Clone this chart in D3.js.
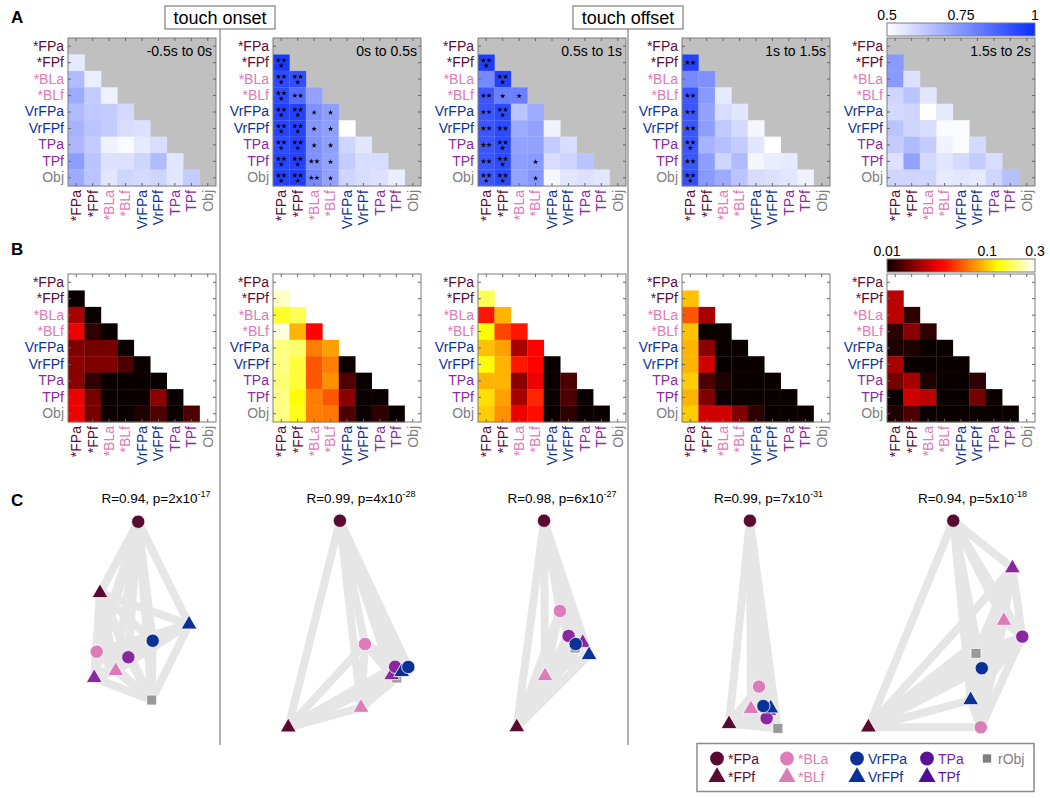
<!DOCTYPE html>
<html>
<head>
<meta charset="utf-8">
<script src="https://cdn.jsdelivr.net/npm/d3@7"></script>
<style>
  body { margin: 0; background: #fff; }
  svg { font-family: "Liberation Sans", Arial, sans-serif; }
</style>
</head>
<body>
<svg id="fig" width="1050" height="798"></svg>
<script>
// ---- data ----
var regions = ['*FPa', '*FPf', '*BLa', '*BLf', 'VrFPa', 'VrFPf', 'TPa', 'TPf', 'Obj'];
var regionColor = ['#5e0b33', '#5e0b33', '#e07ab8', '#e07ab8', '#0d3296', '#0d3296', '#8a2a9c', '#8a2a9c', '#808080'];
var markerColor = ['#5a0a30', '#5a0a30', '#dc7cb8', '#dc7cb8', '#0a3296', '#0a3296', '#8a26a0', '#8a26a0', '#999999'];
var windows = ['-0.5s to 0s', '0s to 0.5s', '0.5s to 1s', '1s to 1.5s', '1.5s to 2s'];

// A: decoding accuracy, lower triangle (row i = regions[i+1], columns 0..i)
var accA = [
  [[0.55], [0.66, 0.54], [0.70, 0.62, 0.53], [0.66, 0.63, 0.62, 0.59], [0.68, 0.64, 0.62, 0.58, 0.57],
   [0.67, 0.62, 0.53, 0.51, 0.55, 0.58], [0.73, 0.64, 0.57, 0.57, 0.60, 0.66, 0.56],
   [0.70, 0.64, 0.56, 0.60, 0.59, 0.60, 0.56, 0.62]],
  [[0.97], [0.93, 0.92], [0.93, 0.85, 0.72], [0.95, 0.95, 0.76, 0.73], [0.94, 0.95, 0.75, 0.73, 0.50],
   [0.93, 0.95, 0.76, 0.73, 0.60, 0.56], [0.94, 0.95, 0.76, 0.72, 0.62, 0.58, 0.58],
   [0.95, 0.96, 0.78, 0.72, 0.60, 0.58, 0.57, 0.54]],
  [[0.96], [0.78, 0.95], [0.90, 0.80, 0.80], [0.90, 0.93, 0.64, 0.70], [0.90, 0.93, 0.70, 0.72, 0.53],
   [0.90, 0.93, 0.72, 0.72, 0.62, 0.58], [0.90, 0.93, 0.73, 0.74, 0.58, 0.60, 0.64],
   [0.90, 0.93, 0.72, 0.75, 0.52, 0.56, 0.57, 0.56]],
  [[0.95], [0.78, 0.76], [0.90, 0.74, 0.55], [0.90, 0.72, 0.58, 0.56], [0.90, 0.73, 0.63, 0.59, 0.52],
   [0.90, 0.68, 0.65, 0.62, 0.56, 0.50], [0.90, 0.73, 0.60, 0.66, 0.52, 0.54, 0.55],
   [0.92, 0.74, 0.70, 0.64, 0.58, 0.57, 0.56, 0.53]],
  [[0.74], [0.74, 0.57], [0.60, 0.64, 0.56], [0.59, 0.60, 0.50, 0.55], [0.64, 0.60, 0.58, 0.51, 0.51],
   [0.62, 0.66, 0.62, 0.53, 0.51, 0.59], [0.57, 0.72, 0.59, 0.56, 0.59, 0.62, 0.58],
   [0.60, 0.60, 0.60, 0.55, 0.56, 0.55, 0.60, 0.65]]
];

// A: number of significance stars per cell
var starsA = [
  null,
  [[3], [3, 3], [3, 2, 0], [3, 3, 1, 1], [3, 3, 1, 1, 0], [3, 3, 1, 1, 0, 0], [3, 3, 2, 1, 0, 0, 0],
   [3, 3, 2, 1, 0, 0, 0, 0]],
  [[3], [0, 3], [2, 1, 1], [2, 3, 0, 0], [2, 2, 0, 0, 0], [2, 3, 0, 0, 0, 0], [2, 3, 0, 1, 0, 0, 0],
   [3, 3, 0, 1, 0, 0, 0, 0]],
  [[2], [0, 0], [2, 0, 0], [2, 0, 0, 0], [2, 0, 0, 0, 0], [3, 0, 0, 0, 0, 0], [2, 0, 0, 0, 0, 0, 0],
   [3, 0, 0, 0, 0, 0, 0, 0]],
  null
];

// B: values on log colour scale 0.01 .. 0.3
var valB = [
  [[0.010], [0.022, 0.010], [0.031, 0.012, 0.010], [0.018, 0.017, 0.017, 0.010],
   [0.019, 0.018, 0.018, 0.014, 0.010], [0.019, 0.012, 0.010, 0.010, 0.010, 0.010],
   [0.031, 0.017, 0.010, 0.010, 0.010, 0.019, 0.010], [0.031, 0.017, 0.010, 0.010, 0.011, 0.014, 0.010, 0.014]],
  [[0.245], [0.147, 0.170], [0.270, 0.088, 0.036], [0.197, 0.185, 0.067, 0.080],
   [0.200, 0.155, 0.055, 0.067, 0.010], [0.190, 0.155, 0.055, 0.074, 0.014, 0.010],
   [0.200, 0.128, 0.067, 0.055, 0.019, 0.010, 0.010], [0.200, 0.140, 0.067, 0.065, 0.014, 0.010, 0.012, 0.010]],
  [[0.170], [0.040, 0.088], [0.128, 0.050, 0.040], [0.094, 0.080, 0.022, 0.036],
   [0.128, 0.088, 0.040, 0.036, 0.010], [0.088, 0.088, 0.019, 0.031, 0.010, 0.014],
   [0.110, 0.080, 0.022, 0.043, 0.010, 0.014, 0.010], [0.100, 0.074, 0.031, 0.038, 0.010, 0.012, 0.010, 0.010]],
  [[0.094], [0.055, 0.022], [0.094, 0.010, 0.010], [0.088, 0.019, 0.010, 0.010],
   [0.088, 0.027, 0.010, 0.010, 0.010], [0.100, 0.014, 0.011, 0.010, 0.010, 0.010],
   [0.088, 0.018, 0.010, 0.010, 0.010, 0.010, 0.010], [0.100, 0.027, 0.027, 0.018, 0.012, 0.010, 0.010, 0.010]],
  [[0.024], [0.024, 0.012], [0.012, 0.019, 0.012], [0.011, 0.011, 0.010, 0.010],
   [0.022, 0.010, 0.010, 0.010, 0.010], [0.017, 0.022, 0.011, 0.010, 0.010, 0.012],
   [0.010, 0.027, 0.024, 0.010, 0.010, 0.017, 0.010], [0.011, 0.014, 0.010, 0.010, 0.010, 0.010, 0.010, 0.010]]
];

// C: 2-D embedding coordinates, one row per window, in region order
var mdsX = [
  [-0.086, -0.271, -0.287, -0.195, -0.016, 0.160, -0.134, -0.299, -0.021],
  [-0.102, -0.352, 0.019, 0.000, 0.229, 0.197, 0.165, 0.149, 0.173],
  [-0.087, -0.219, -0.010, -0.082, 0.066, 0.131, 0.032, 0.100, 0.063],
  [-0.090, -0.191, -0.046, -0.085, -0.025, 0.011, -0.009, 0.002, 0.045],
  [-0.093, -0.504, 0.040, 0.152, 0.045, -0.009, 0.241, 0.193, 0.017]
];
var mdsY = [
  [0.005, 0.350, 0.634, 0.727, 0.581, 0.502, 0.661, 0.761, 0.868],
  [0.000, 1.000, 0.597, 0.905, 0.708, 0.732, 0.707, 0.747, 0.761],
  [0.000, 0.999, 0.437, 0.752, 0.597, 0.650, 0.558, 0.591, 0.616],
  [0.000, 0.984, 0.803, 0.911, 0.897, 0.908, 0.956, 0.920, 1.005],
  [0.000, 1.000, 1.000, 0.484, 0.714, 0.868, 0.561, 0.230, 0.642]
];
var statR = [0.94, 0.99, 0.98, 0.99, 0.94];
var statPm = [2, 4, 6, 7, 5];
var statPe = [-17, -28, -27, -31, -18];

// ---- layout ----
var svg = d3.select('#fig');
var matLeft = [68, 273, 478, 682, 887];
var size = 148;
var topA = 38, topB = 274;
var graphCenter = [156, 361, 562, 768.5, 972.5];

var blueScale = d3.scaleLinear().domain([0.5, 1]).range(['#ffffff', '#0a2cff']).clamp(true);
var logB = d3.scaleLog().domain([0.01, 0.3]).range([0, 1]).clamp(true);

function hot(t) {
  var c = function (v) { return Math.max(0, Math.min(1, v)); };
  return d3.rgb(255 * c(0.0417 + t / 0.375), 255 * c((t - 0.375) / 0.375), 255 * c((t - 0.75) / 0.25)) + '';
}

function shapeOf(i) {
  if (i === 8) { return d3.symbolSquare; }
  return i % 2 === 0 ? d3.symbolCircle : d3.symbolTriangle;
}
function sizeOf(i) {
  if (i === 8) { return 100; }
  return i % 2 === 0 ? 140 : 110;
}

// draw one triangular matrix with its axes
function drawMatrix(left, top, vals, fill, bg, stars, cellStroke) {
  var x = d3.scaleBand().domain(regions).range([left, left + size]);
  var y = d3.scaleBand().domain(regions).range([top, top + size]);
  var g = svg.append('g');

  g.append('rect')
    .attr('x', left).attr('y', top)
    .attr('width', size).attr('height', size)
    .attr('fill', bg);

  var cells = [];
  vals.forEach(function (row, ri) {
    row.forEach(function (v, ci) {
      cells.push({r: regions[ri + 1], c: regions[ci], v: v, s: stars ? stars[ri][ci] : 0});
    });
  });

  g.selectAll('rect.cell').data(cells).join('rect')
    .attr('class', 'cell')
    .attr('x', function (d) { return x(d.c); })
    .attr('y', function (d) { return y(d.r); })
    .attr('width', x.bandwidth() + 0.3)
    .attr('height', y.bandwidth() + 0.3)
    .attr('fill', function (d) { return fill(d.v); })
    .attr('stroke', cellStroke)
    .attr('stroke-width', 0.5);

  // significance stars
  var offs = {
    1: [[0, 0.5]],
    2: [[-2.8, 0], [2.8, 0]],
    3: [[-2.8, -2.4], [2.8, -2.4], [0, 3]]
  };
  var star = d3.symbol(d3.symbolStar, 9);
  cells.filter(function (d) { return d.s > 0; }).forEach(function (d) {
    var cx = x(d.c) + x.bandwidth() / 2, cy = y(d.r) + y.bandwidth() / 2;
    offs[d.s].forEach(function (o) {
      g.append('path')
        .attr('d', star)
        .attr('transform', 'translate(' + (cx + o[0]) + ',' + (cy + o[1]) + ')')
        .attr('fill', '#000');
    });
  });

  // frame
  g.append('rect')
    .attr('x', left).attr('y', top)
    .attr('width', size).attr('height', size)
    .attr('fill', 'none')
    .attr('stroke', '#7d7d7d');

  function style(a) {
    a.select('.domain').remove();
    a.selectAll('line').attr('stroke', '#666');
    a.attr('font-family', null).attr('font-size', 14);
  }

  g.append('g').attr('transform', 'translate(' + left + ',0)')
    .call(d3.axisLeft(y).tickSizeInner(-3).tickSizeOuter(0).tickPadding(4))
    .call(style)
    .selectAll('text')
    .attr('fill', function (d) { return regionColor[regions.indexOf(d)]; });

  g.append('g').attr('transform', 'translate(' + (left + size) + ',0)')
    .call(d3.axisRight(y).tickSizeInner(-3).tickSizeOuter(0).tickFormat(''))
    .call(style);

  g.append('g').attr('transform', 'translate(0,' + top + ')')
    .call(d3.axisTop(x).tickSizeInner(-3).tickSizeOuter(0).tickFormat(''))
    .call(style);

  g.append('g').attr('transform', 'translate(0,' + (top + size) + ')')
    .call(d3.axisBottom(x).tickSizeInner(-3).tickSizeOuter(0))
    .call(style)
    .selectAll('text')
    .attr('transform', 'rotate(-90)')
    .attr('text-anchor', 'end')
    .attr('x', -4).attr('y', 0).attr('dy', '0.35em')
    .attr('fill', function (d) { return regionColor[regions.indexOf(d)]; });

  return g;
}

// panel A and B matrices
windows.forEach(function (w, k) {
  var gA = drawMatrix(matLeft[k], topA, accA[k], blueScale, '#c0c0c0', starsA[k], 'rgba(255,255,255,0.15)');
  gA.append('text')
    .attr('x', matLeft[k] + size - 4).attr('y', topA + 18)
    .attr('text-anchor', 'end')
    .attr('font-size', 14)
    .text(w);
  drawMatrix(matLeft[k], topB, valB[k], function (v) { return hot(logB(v)); }, '#ffffff', null, 'none');
});

// colour bars
var defs = svg.append('defs');
var gradA = defs.append('linearGradient').attr('id', 'gradA');
gradA.append('stop').attr('offset', '0%').attr('stop-color', blueScale(0.5));
gradA.append('stop').attr('offset', '100%').attr('stop-color', blueScale(1));
var gradB = defs.append('linearGradient').attr('id', 'gradB');
d3.range(0, 1.0001, 0.05).forEach(function (t) {
  gradB.append('stop').attr('offset', (t * 100) + '%').attr('stop-color', hot(t));
});

function colorBar(top, grad, scale, ticks) {
  var left = matLeft[4];
  svg.append('rect')
    .attr('x', left).attr('y', top)
    .attr('width', size).attr('height', 13)
    .attr('fill', 'url(#' + grad + ')')
    .attr('stroke', '#7d7d7d');
  svg.append('g').selectAll('text').data(ticks).join('text')
    .attr('x', function (d) { return left + scale(d) * size; })
    .attr('y', top - 3)
    .attr('text-anchor', 'middle')
    .attr('font-size', 14)
    .text(function (d) { return d; });
}
colorBar(23, 'gradA', d3.scaleLinear().domain([0.5, 1]).range([0, 1]), [0.5, 0.75, 1]);
colorBar(259, 'gradB', logB, [0.01, 0.1, 0.3]);

// panel labels
[['A', 23], ['B', 255], ['C', 506]].forEach(function (p) {
  svg.append('text').attr('x', 11).attr('y', p[1])
    .attr('font-size', 17).attr('font-weight', 'bold').text(p[0]);
});

// event separators
[['touch onset', 220], ['touch offset', 628]].forEach(function (e) {
  svg.append('line')
    .attr('x1', e[1]).attr('x2', e[1]).attr('y1', 29).attr('y2', 745)
    .attr('stroke', '#9a9a9a').attr('stroke-width', 1.5);
  svg.append('rect')
    .attr('x', e[1] - 55).attr('y', 6).attr('width', 110).attr('height', 23)
    .attr('fill', '#fff').attr('stroke', '#666');
  svg.append('text')
    .attr('x', e[1]).attr('y', 24)
    .attr('text-anchor', 'middle').attr('font-size', 18)
    .text(e[0]);
});

// panel C graphs
var pairs = [];
regions.forEach(function (a, i) {
  regions.forEach(function (b, j) { if (j > i) { pairs.push([i, j]); } });
});
var drawOrder = [8, 0, 1, 2, 3, 7, 6, 5, 4];

windows.forEach(function (w, k) {
  var xs = d3.scaleLinear().domain([-1, 1]).range([graphCenter[k] - 206.6, graphCenter[k] + 206.6]);
  var ys = d3.scaleLinear().domain([0, 1]).range([520.7, 727.3]);
  var g = svg.append('g');

  g.selectAll('line').data(pairs).join('line')
    .attr('x1', function (d) { return xs(mdsX[k][d[0]]); })
    .attr('y1', function (d) { return ys(mdsY[k][d[0]]); })
    .attr('x2', function (d) { return xs(mdsX[k][d[1]]); })
    .attr('y2', function (d) { return ys(mdsY[k][d[1]]); })
    .attr('stroke', '#e6e6e6')
    .attr('stroke-width', 8)
    .attr('stroke-linecap', 'round');

  g.selectAll('path').data(drawOrder).join('path')
    .attr('d', function (i) { return d3.symbol(shapeOf(i), sizeOf(i))(); })
    .attr('transform', function (i) {
      return 'translate(' + xs(mdsX[k][i]) + ',' + ys(mdsY[k][i]) + ')';
    })
    .attr('fill', function (i) { return markerColor[i]; })
    .attr('stroke', '#fff')
    .attr('stroke-width', 0.8);

  var t = g.append('text')
    .attr('x', graphCenter[k]).attr('y', 503)
    .attr('text-anchor', 'middle')
    .attr('font-size', 13.5);
  t.append('tspan').text('R=' + statR[k].toFixed(2) + ', p=' + statPm[k] + 'x10');
  t.append('tspan').attr('dy', -6).attr('font-size', 9).text(statPe[k]);
});

// legend
var legendItems = [
  {i: 0, col: 0, row: 0, label: '*FPa'}, {i: 1, col: 0, row: 1, label: '*FPf'},
  {i: 2, col: 1, row: 0, label: '*BLa'}, {i: 3, col: 1, row: 1, label: '*BLf'},
  {i: 4, col: 2, row: 0, label: 'VrFPa'}, {i: 5, col: 2, row: 1, label: 'VrFPf'},
  {i: 6, col: 3, row: 0, label: 'TPa'}, {i: 7, col: 3, row: 1, label: 'TPf'},
  {i: 8, col: 4, row: 0, label: 'rObj'}
];
var legColX = [717, 787, 857, 927, 987];
var legRowY = [758.5, 777];
var legendTextColor = ['#5e0b33', '#5e0b33', '#e07ab8', '#e07ab8', '#0d3296', '#0d3296', '#7a22a8', '#5a18a0', '#808080'];
var legendMarkColor = ['#5a0a30', '#5a0a30', '#dc7cb8', '#dc7cb8', '#0a3296', '#0a3296', '#5a1296', '#4e0e9a', '#808080'];

svg.append('rect')
  .attr('x', 697).attr('y', 743.5).attr('width', 337).attr('height', 48)
  .attr('fill', '#fff').attr('stroke', '#8a8a8a').attr('stroke-width', 1.5);

var leg = svg.append('g').selectAll('g').data(legendItems).join('g')
  .attr('transform', function (d) { return 'translate(' + legColX[d.col] + ',' + legRowY[d.row] + ')'; });
leg.append('path')
  .attr('d', function (d) { return d3.symbol(shapeOf(d.i), d.i === 8 ? 70 : (d.i % 2 === 0 ? 150 : 125))(); })
  .attr('fill', function (d) { return legendMarkColor[d.i]; });
leg.append('text')
  .attr('x', 11).attr('dy', '0.36em')
  .attr('font-size', 14)
  .attr('fill', function (d) { return legendTextColor[d.i]; })
  .text(function (d) { return d.label; });
</script>
</body>
</html>
